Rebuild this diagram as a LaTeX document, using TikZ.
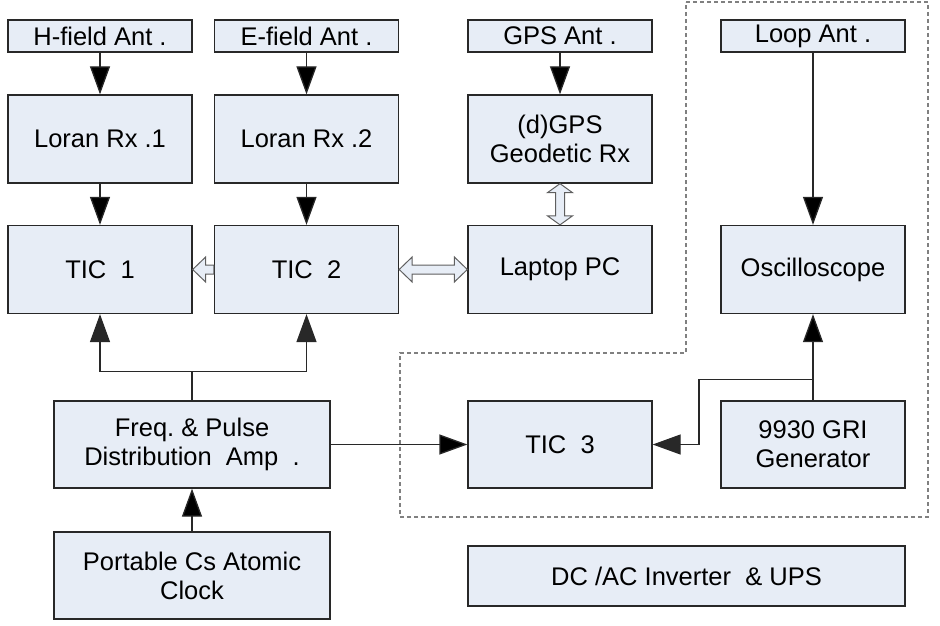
\documentclass[tikz,border=0pt]{standalone}
\usepackage{fontspec}
\setmainfont{Liberation Sans}
\usetikzlibrary{arrows.meta,calc}
\definecolor{boxfill}{RGB}{231,237,246}
\definecolor{boxline}{RGB}{40,40,40}
\definecolor{fatline}{RGB}{95,95,95}
\tikzstyle{blk} = [rectangle, draw = boxline, fill = boxfill, line width = 1.3pt, minimum width = 184pt, minimum height = 88pt, inner sep = 0pt, align = center, font = \fontsize{25.5}{29}\selectfont]
\tikzstyle{ant} = [blk, minimum height = 32pt]
\tikzstyle{wide} = [blk, minimum width = 276pt, minimum height = 87pt]
\tikzstyle{wire} = [draw = boxline, line width = 1.3pt]
\tikzstyle{sig} = [wire, -{Triangle[length = 28pt, width = 20pt]}]
\tikzstyle{fat} = [draw = fatline, fill = boxfill, line width = 1pt]
\tikzstyle{region} = [draw = gray, line width = 1.2pt, dash pattern = on 4pt off 3pt]

\begin{document}
\begin{tikzpicture}[x = 1pt, y = -1pt]
			\useasboundingbox (0,0) rectangle (940,626);
			\draw[region] (686,2) -- (928,2) -- (928,517) -- (400,517) -- (400,353) -- (686,353) -- cycle;
			\node[ant] (hant) at (100,36) {H-field Ant .};
			\node[ant] (eant) at (306.5,36) {E-field Ant .};
			\node[ant] (gant) at (560,36) {GPS Ant .};
			\node[ant] (lant) at (813,36) {Loop Ant .};
			\node[blk] (lrx1) at (100,139) {Loran Rx .1};
			\node[blk] (lrx2) at (306.5,139) {Loran Rx .2};
			\node[blk] (dgps) at (560,139) {(d)GPS\\Geodetic Rx};
			\node[blk] (tic1) at (100,269.5) {TIC~~1};
			\node[blk] (tic2) at (306.5,269.5) {TIC~~2};
			\node[blk] (pc) at (560,269.5) {Laptop PC};
			\node[blk] (osc) at (813,269.5) {Oscilloscope};
			\node[wide] (fpda) at (192,444.5) {Freq.\ \& Pulse\\Distribution~~Amp~~.};
			\node[blk, minimum height = 87pt] (tic3) at (560,444.5) {TIC~~3};
			\node[blk, minimum height = 87pt] (gri) at (813,444.5) {9930 GRI\\Generator};
			\node[wide] (cs) at (192,575.5) {Portable Cs Atomic\\Clock};
			\node[blk, minimum width = 437pt, minimum height = 60pt] (ups) at (686.5,576) {DC /AC Inverter~~\& UPS};
			\path[sig]
			(hant) edge (lrx1)
			(eant) edge (lrx2)
			(gant) edge (dgps)
			(lant) edge (osc)
			(lrx1) edge (tic1)
			(lrx2) edge (tic2)
			(cs) edge (fpda)
			(fpda) edge (tic3)
			(gri) edge (osc);
			\draw[wire] (fpda.north) -- ++(0,-29) coordinate (split);
			\draw[sig] (split) -| (tic1.south);
			\draw[sig] (split) -| (tic2.south);
			\coordinate (tap) at ($(gri.north)+(0,-21)$);
			\draw[sig] (tap) -- ++(-114,0) |- (tic3.east);
			\draw[fat] (tic1.east) -- ++(13,-12.5) -- ++(0,8) -- ($(tic2.west)+(0,-4.5)$) -- ++(0,9) -- ($(tic1.east)+(13,4.5)$) -- ++(0,8) -- cycle;
			\draw[fat] (tic2.east) -- ++(13,-12.5) -- ++(0,8) -- ($(pc.west)+(-13,-4.5)$) -- ++(0,-8) -- (pc.west) -- ++(-13,12.5) -- ++(0,-8) -- ($(tic2.east)+(13,4.5)$) -- ++(0,8) -- cycle;
			\draw[fat] (dgps.south) -- ++(12.5,9) -- ++(-8,0) -- ($(pc.north)+(4.5,-9)$) -- ++(8,0) -- (pc.north) -- ++(-12.5,-9) -- ++(8,0) -- ($(dgps.south)+(-4.5,9)$) -- ++(-8,0) -- cycle;
		\end{tikzpicture}
\end{document}
